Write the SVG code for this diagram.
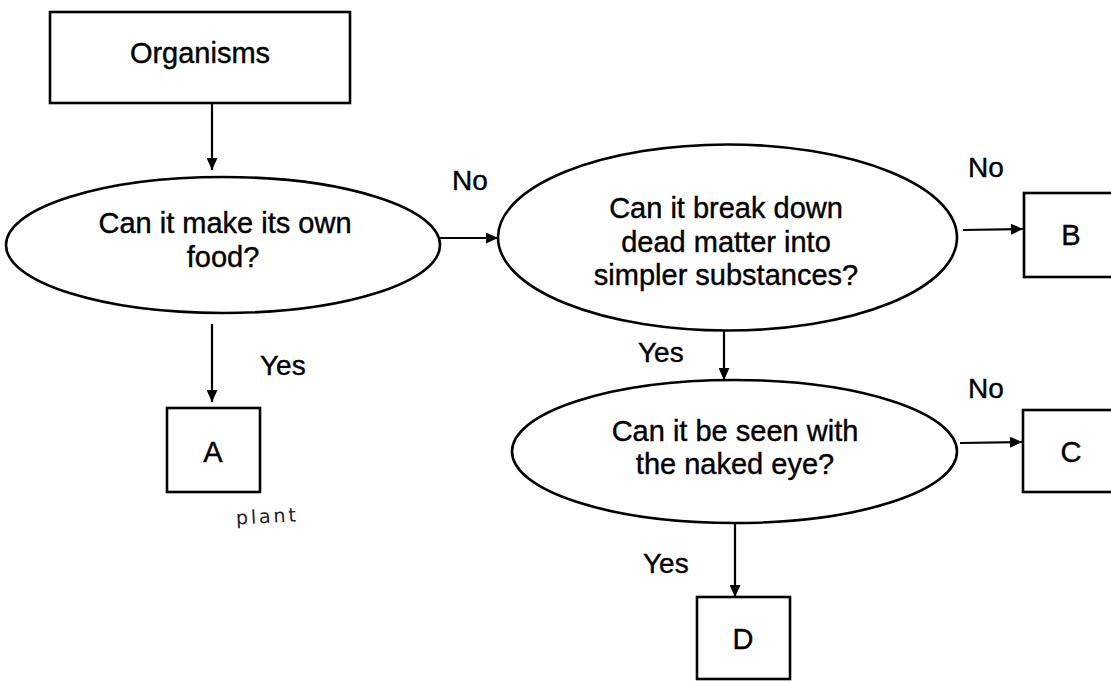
<svg xmlns="http://www.w3.org/2000/svg" width="1111" height="682" viewBox="0 0 1111 682">
<defs>
<style>
.shape{fill:#fff;stroke:#000;stroke-width:2.6}
.t{font-family:"Liberation Sans",Arial,sans-serif;font-size:29px;fill:#000;stroke:#000;stroke-width:0.4;text-anchor:middle}
.lbl{font-family:"Liberation Sans",Arial,sans-serif;font-size:28px;fill:#000;stroke:#000;stroke-width:0.4}
.conn{stroke:#000;stroke-width:2.2;fill:none;marker-end:url(#arrow)}
.hand{font-family:"DejaVu Sans",sans-serif;font-size:19px;fill:#222}
</style>
<marker id="arrow" markerUnits="userSpaceOnUse" markerWidth="12" markerHeight="11" refX="12" refY="5.5" orient="auto">
<path d="M0,0 L12,5.5 L0,11 z" fill="#000"/>
</marker>
</defs>
<rect width="1111" height="682" fill="#fff"/>
<g id="organisms">
<rect class="shape" x="50" y="12" width="300" height="91"/>
<text class="t" x="200" y="63">Organisms</text>
</g>
<g id="q1">
<ellipse class="shape" cx="223" cy="245" rx="217" ry="68"/>
<text class="t" x="225" y="233">Can it make its own</text>
<text class="t" x="223" y="267">food?</text>
</g>
<g id="q2">
<ellipse class="shape" cx="727.5" cy="237.5" rx="229.5" ry="93"/>
<text class="t" x="726" y="218">Can it break down</text>
<text class="t" x="726" y="252">dead matter into</text>
<text class="t" x="726" y="285">simpler substances?</text>
</g>
<g id="q3">
<ellipse class="shape" cx="734.5" cy="451.5" rx="222.5" ry="71.5"/>
<text class="t" x="735" y="441">Can it be seen with</text>
<text class="t" x="735" y="474">the naked eye?</text>
</g>
<g id="A">
<rect class="shape" x="167" y="408" width="93" height="84"/>
<text class="t" x="213" y="462">A</text>
<text class="hand" x="236" y="523" textLength="60" lengthAdjust="spacing" transform="rotate(-3 265 518)">plant</text>
</g>
<g id="B">
<rect class="shape" x="1024" y="193" width="100" height="84"/>
<text class="t" x="1071" y="245">B</text>
</g>
<g id="C">
<rect class="shape" x="1023" y="410" width="100" height="82"/>
<text class="t" x="1071" y="462">C</text>
</g>
<g id="D">
<rect class="shape" x="697" y="597" width="93" height="82"/>
<text class="t" x="743" y="649">D</text>
</g>
<g id="connectors">
<line class="conn" x1="212" y1="103" x2="212" y2="170"/>
<line class="conn" x1="212" y1="324" x2="212" y2="402"/>
<line class="conn" x1="440" y1="238" x2="498" y2="238"/>
<line class="conn" x1="963" y1="230" x2="1023" y2="229"/>
<line class="conn" x1="724" y1="331" x2="724" y2="380"/>
<line class="conn" x1="960" y1="443" x2="1022" y2="442"/>
<line class="conn" x1="735" y1="523" x2="735" y2="597"/>
</g>
<g id="labels">
<text class="lbl" x="452" y="190">No</text>
<text class="lbl" x="968" y="177">No</text>
<text class="lbl" x="968" y="398">No</text>
<text class="lbl" x="260" y="375">Yes</text>
<text class="lbl" x="638" y="362">Yes</text>
<text class="lbl" x="643" y="573">Yes</text>
</g>
</svg>
